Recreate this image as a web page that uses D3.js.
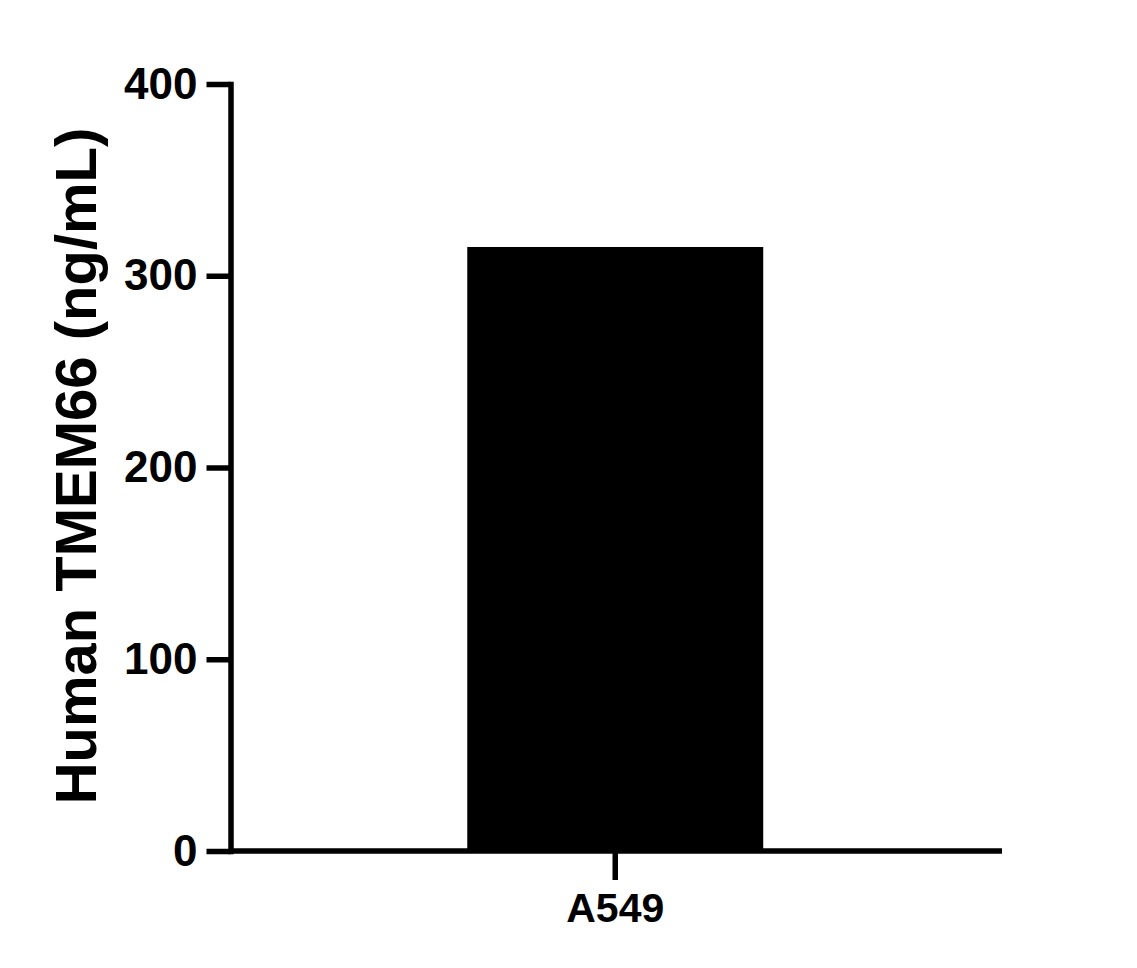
<!DOCTYPE html>
<html>
<head>
<meta charset="utf-8">
<script src="https://cdn.jsdelivr.net/npm/d3@7/dist/d3.min.js"></script>
<style>
  html, body { margin: 0; padding: 0; background: #fff; }
  svg { display: block; }
  text { font-family: "Liberation Sans", Arial, Helvetica, sans-serif; font-weight: bold; fill: #000; }
</style>
</head>
<body>
<svg id="chart" width="1137" height="968"></svg>
<script>
const categories = ["A549"];
const values = [315];
const yTicks = [0, 100, 200, 300, 400];
const yTitle = "Human TMEM66 (ng/mL)";

(function () {
const svg = d3.select("#chart");
const mLeft = 230.5, mRight = 1002, mTop = 84, mBottom = 851;

const y = d3.scaleLinear().domain([0, 400]).range([mBottom, mTop]);
const x = d3.scaleBand().domain(categories).range([mLeft, mRight - 2]).paddingInner(0).paddingOuter(0.8);

// bars
svg.append("g").selectAll("rect").data(values).join("rect")
  .attr("x", (d, i) => x(categories[i]))
  .attr("width", x.bandwidth())
  .attr("y", d => y(d))
  .attr("height", d => y(0) - y(d))
  .attr("fill", "#000");

// y axis
const gy = svg.append("g").attr("transform", `translate(${mLeft},0)`)
  .call(d3.axisLeft(y).tickValues(yTicks).tickSize(24).tickSizeOuter(0).tickPadding(9));
gy.select(".domain").attr("stroke", "#000").attr("stroke-width", 5.5).attr("stroke-linecap", "square");
gy.selectAll(".tick line").attr("stroke", "#000").attr("stroke-width", 5.5);
gy.selectAll(".tick text").style("font-size", "44px").attr("fill", "#000");

// x axis
const gx = svg.append("g").attr("transform", `translate(0,${mBottom})`)
  .call(d3.axisBottom(x).tickSize(29).tickSizeOuter(0).tickPadding(13));
gx.select(".domain").attr("stroke", "#000").attr("stroke-width", 5.5)
  .attr("d", `M${mLeft},0H${mRight}`);
gx.selectAll(".tick line").attr("stroke", "#000").attr("stroke-width", 5.5);
gx.selectAll(".tick text").style("font-size", "41px").attr("fill", "#000");

// y title
svg.append("text")
  .attr("transform", `translate(96,${(130 + 802) / 2}) rotate(-90)`)
  .attr("text-anchor", "middle")
  .style("font-size", "58px")
  .text(yTitle);
})();
</script>
</body>
</html>
